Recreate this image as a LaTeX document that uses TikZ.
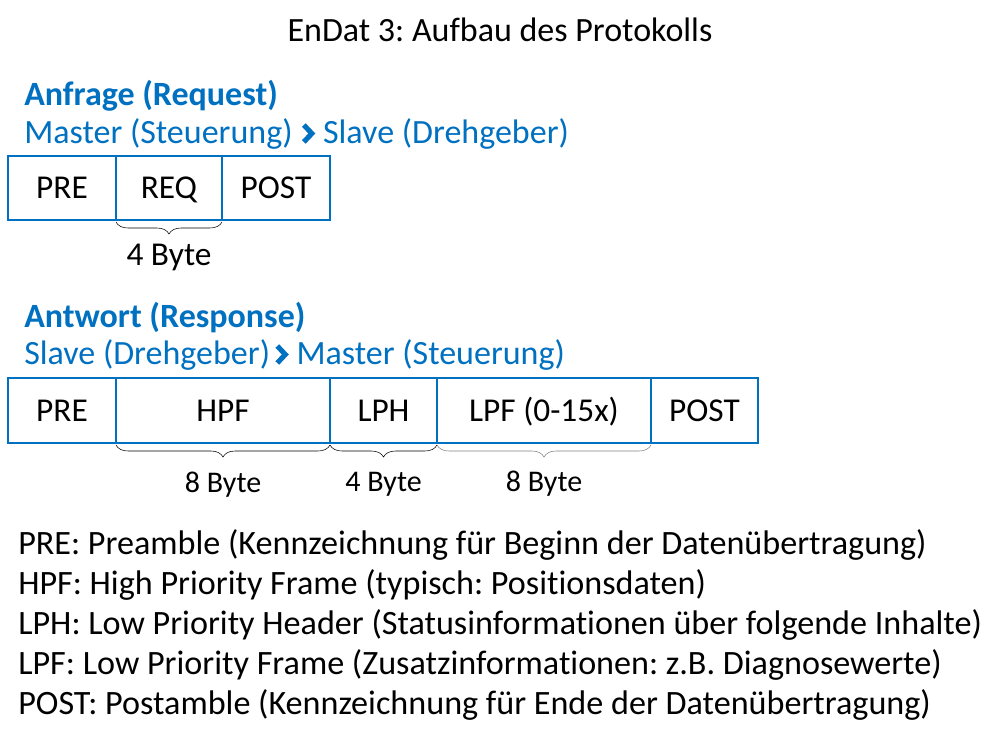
\documentclass[tikz,border=0pt]{standalone}
\usepackage{fontspec}
\setmainfont{Carlito}[RawFeature=-liga]
\usetikzlibrary{positioning,calc}
\usetikzlibrary{decorations.pathreplacing}
\definecolor{endat}{RGB}{0,112,192}
\frenchspacing
\tikzstyle{every cell} = []
\tikzstyle{cell} = [draw=endat, line width=1.9pt, outer sep=0pt, minimum height=48pt, inner sep=0pt, text height=17pt, text depth=1pt, font=\fontsize{25}{28}\selectfont, every cell]
\tikzstyle{head} = [text=endat, font=\fontsize{25.5}{30}\selectfont\bfseries, inner sep=0pt]
\tikzstyle{sub} = [text=endat, font=\fontsize{25.5}{30}\selectfont, inner sep=0pt]
\tikzstyle{chev} = [draw=endat, line width=3.8pt, line cap=butt, line join=miter]
\tikzstyle{brace} = [draw, thin, decorate, decoration={brace, mirror, amplitude=9pt}]
\tikzstyle{bytes} = [font=\fontsize{22.5}{26}\selectfont, inner sep=0pt, black]
\tikzstyle{legend} = [font=\fontsize{25.6}{30}\selectfont, inner sep=0pt, anchor=base west]

\begin{document}
\begin{tikzpicture}[x=0.75pt, y=-0.75pt, node distance=0pt]
                    \useasboundingbox (0,0) rectangle (1000,743);
                    \node[font=\fontsize{25.5}{30}\selectfont, inner sep=0pt, anchor=base] (titel) at (500,41) {EnDat 3: Aufbau des Protokolls};

                    \node[head, anchor=base west] (anfrage) at (24,105) {Anfrage (Request)};
                    \node[sub, anchor=base west] (master1) at (24,143) {Master (Steuerung)};
                    \node[sub, anchor=base west] (slave1) at ($(master1.base east)+(30,0)$) {Slave (Drehgeber)};
                    \draw[chev] ($(master1.base east)+(11,-18)$) -- ++(8,8.5) -- ++(-8,8.5);

                    \node[cell, minimum width=81pt, anchor=north west] (pre1) at (8,156) {PRE};
                    \node[cell, minimum width=79.5pt, right=of pre1] (req) {REQ};
                    \node[cell, minimum width=81pt, right=of req] (post1) {POST};
                    \draw[brace] ([yshift=-1.5pt]req.south west) -- ([yshift=-1.5pt]req.south east)
                        node[midway, below=16pt, bytes, font=\fontsize{25}{30}\selectfont] (byte1) {4 Byte};

                    \node[head, anchor=base west] (antwort) at (24,327) {Antwort (Response)};
                    \node[sub, anchor=base west] (slave2) at (24,364) {Slave (Drehgeber)};
                    \node[sub, anchor=base west] (master2) at ($(slave2.base east)+(26,0)$) {Master (Steuerung)};
                    \draw[chev] ($(slave2.base east)+(7,-18)$) -- ++(8,8.5) -- ++(-8,8.5);

                    \node[cell, minimum width=81pt, minimum height=48.75pt, anchor=north west] (pre2) at (8,378) {PRE};
                    \node[cell, minimum width=160.5pt, minimum height=48.75pt, right=of pre2] (hpf) {HPF};
                    \node[cell, minimum width=80.25pt, minimum height=48.75pt, right=of hpf] (lph) {LPH};
                    \node[cell, minimum width=160.5pt, minimum height=48.75pt, right=of lph] (lpf) {LPF (0-15x)};
                    \node[cell, minimum width=80.25pt, minimum height=48.75pt, right=of lpf] (post2) {POST};
                    \draw[brace] ([yshift=-1.5pt]hpf.south west) -- ([yshift=-1.5pt]hpf.south east)
                        node[midway, below=20pt, bytes] (byte2) {8 Byte};
                    \draw[brace] ([yshift=-1.5pt]lph.south west) -- ([yshift=-1.5pt]lph.south east)
                        node[midway, below=20pt, bytes] (byte3) {4 Byte};
                    \draw[brace, gray] ([yshift=-1.5pt]lpf.south west) -- ([yshift=-1.5pt]lpf.south east)
                        node[midway, below=19pt, bytes] (byte4) {8 Byte};

                    \node[legend] (leg1) at (18,554) {PRE: Preamble (Kennzeichnung für Beginn der Datenübertragung)};
                    \node[legend] (leg2) at (18,594) {HPF: High Priority Frame (typisch: Positionsdaten)};
                    \node[legend] (leg3) at (18,634) {LPH: Low Priority Header (Statusinformationen über folgende Inhalte)};
                    \node[legend] (leg4) at (18,674) {LPF: Low Priority Frame (Zusatzinformationen: z.B. Diagnosewerte)};
                    \node[legend] (leg5) at (18,714) {POST: Postamble (Kennzeichnung für Ende der Datenübertragung)};
                \end{tikzpicture}
\end{document}
